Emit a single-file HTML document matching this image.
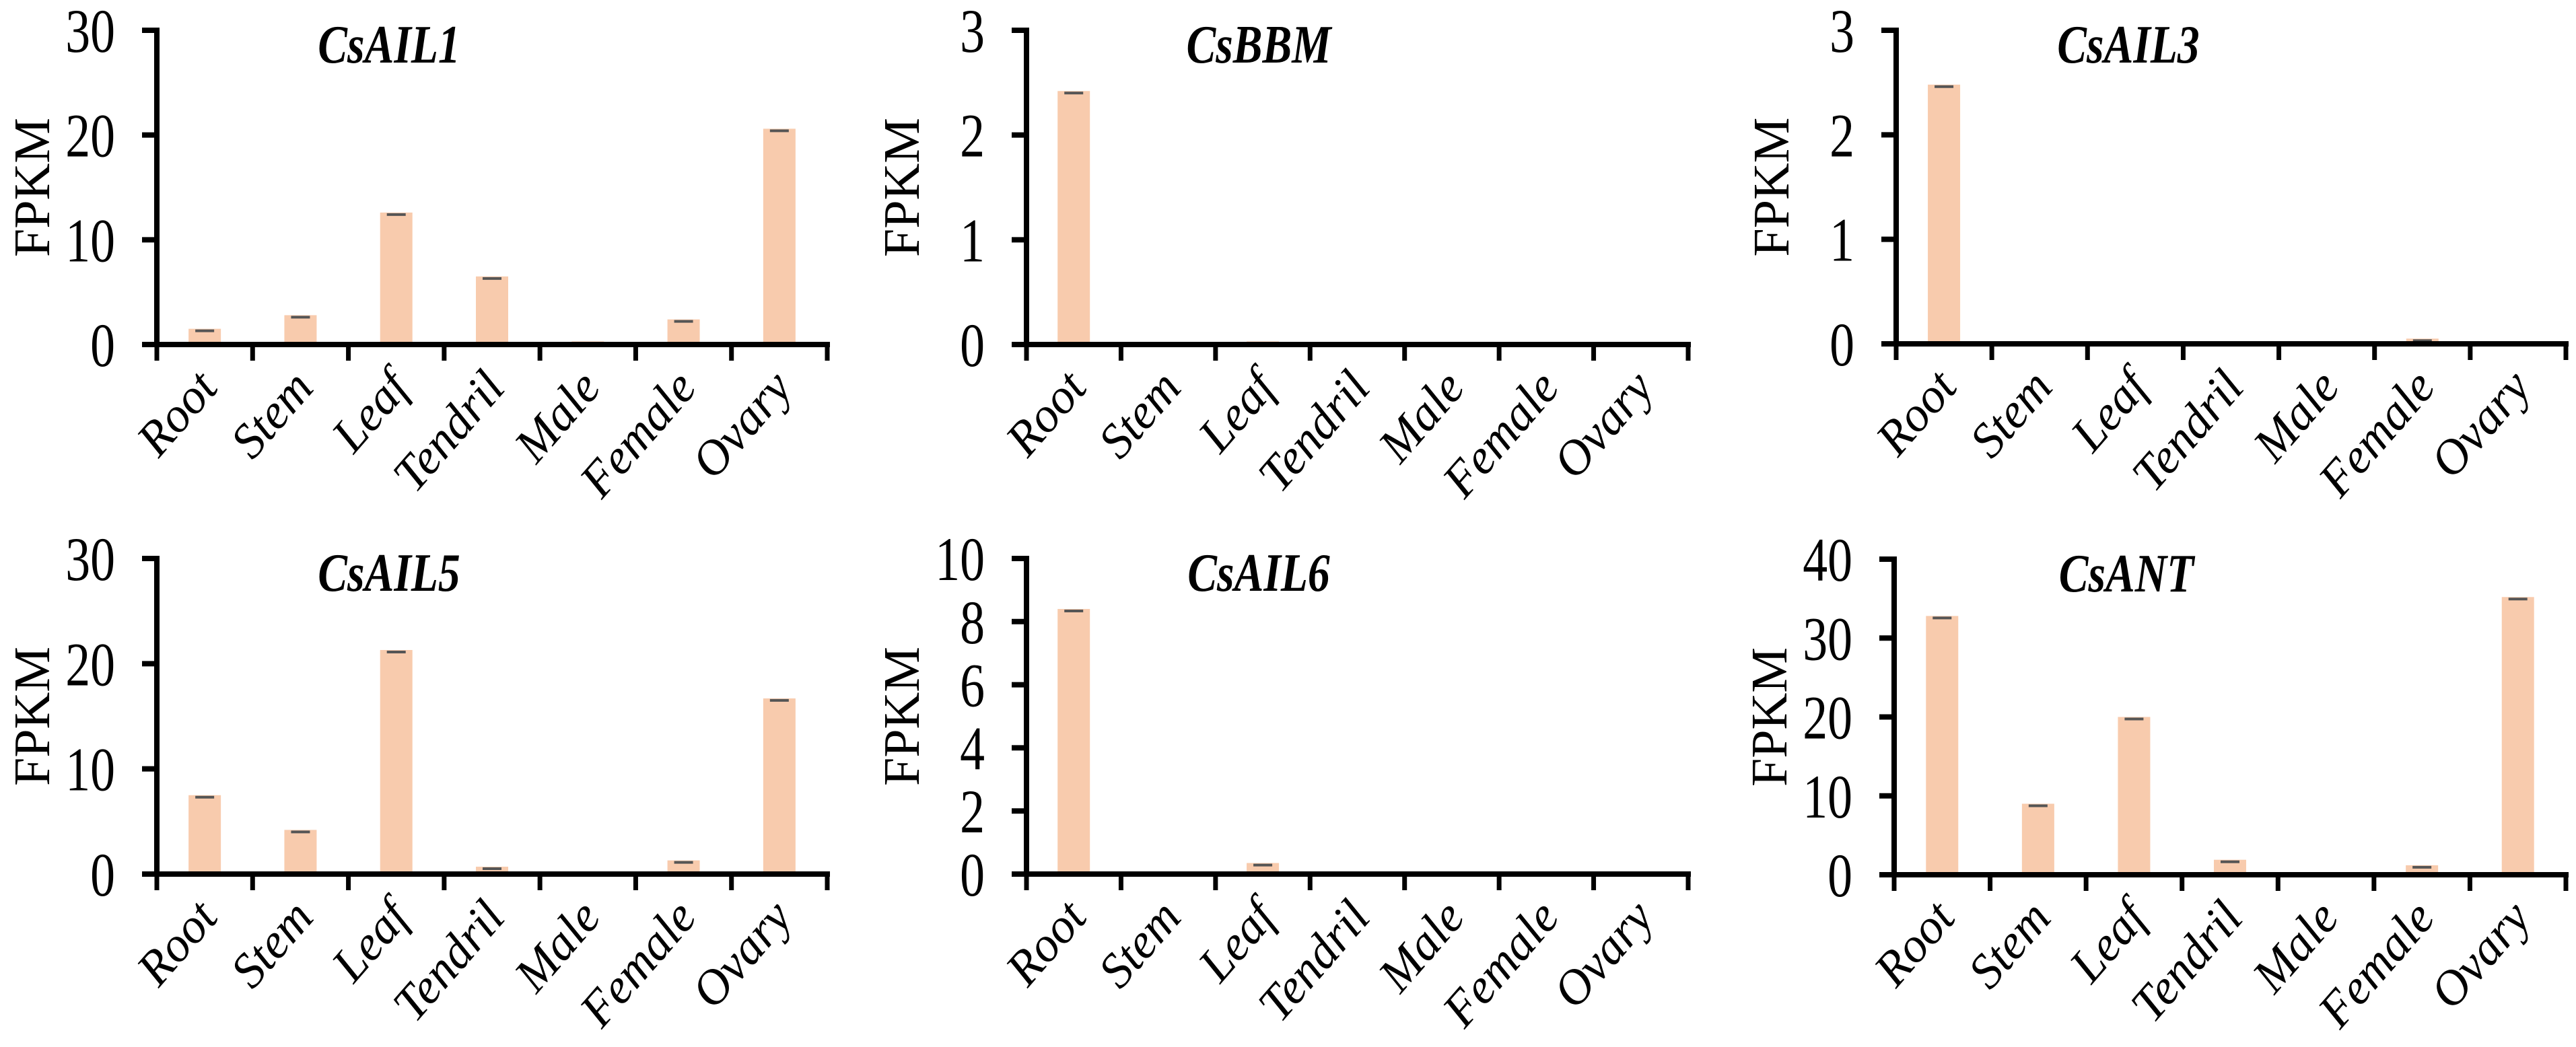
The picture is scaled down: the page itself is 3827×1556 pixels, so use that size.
<!DOCTYPE html>
<html><head><meta charset="utf-8"><style>
html,body{margin:0;padding:0;background:#fff;}
svg{display:block;font-family:"Liberation Serif",serif;}
</style></head><body>
<svg id="fig" width="3827" height="1556" viewBox="0 0 3827 1556" xmlns="http://www.w3.org/2000/svg"></svg>
<script>
const categories = ["Root","Stem","Leaf","Tendril","Male","Female","Ovary"];
const titles = ["CsAIL1","CsBBM","CsAIL3","CsAIL5","CsAIL6","CsANT"];
const valsAIL1 = [1.5,2.8,12.6,6.5,0.3,2.4,20.6];
const valsBBM = [2.42,0,0.03,0,0,0,0];
const valsAIL3 = [2.48,0,0,0,0,0.05,0];
const valsAIL5 = [7.5,4.2,21.3,0.7,0,1.3,16.7];
const valsAIL6 = [8.4,0,0.35,0,0,0,0];
const valsANT = [32.8,9.0,20.0,1.9,0,1.2,35.2];
const ticksAIL1 = [0,10,20,30];
const ticksBBM = [0,1,2,3];
const ticksAIL3 = [0,1,2,3];
const ticksAIL5 = [0,10,20,30];
const ticksAIL6 = [0,2,4,6,8,10];
const ticksANT = [0,10,20,30,40];

const NS="http://www.w3.org/2000/svg";
const svg=document.getElementById('fig');
function mk(tag,attrs,parent){const e=document.createElementNS(NS,tag);for(const k in attrs)e.setAttribute(k,attrs[k]);(parent||svg).appendChild(e);return e;}

const panels=[
 {x0:233,x1:1229,top:45,zero:512,vals:valsAIL1,ticks:ticksAIL1,name:"csail1"},
 {x0:1525,x1:2508,top:45,zero:512,vals:valsBBM,ticks:ticksBBM,name:"csbbm"},
 {x0:2817,x1:3812,top:45,zero:511,vals:valsAIL3,ticks:ticksAIL3,name:"csail3"},
 {x0:233,x1:1229,top:830,zero:1299,vals:valsAIL5,ticks:ticksAIL5,name:"csail5"},
 {x0:1525,x1:2508,top:830,zero:1299,vals:valsAIL6,ticks:ticksAIL6,name:"csail6"},
 {x0:2814,x1:3812,top:831,zero:1300,vals:valsANT,ticks:ticksANT,name:"csant"}
];

panels.forEach((p,pi)=>{
  const g=mk('g',{});
  
  
  const max=p.ticks[p.ticks.length-1];
  const yS=v=>p.zero-(v/max)*(p.zero-p.top);
  const step=(p.x1-p.x0)/categories.length;
  const xC=i=>p.x0+step*(i+0.5);
  p.vals.forEach((v,i)=>{
    if(v<=0) return;
    const b=mk('rect',{x:xC(i)-24,y:yS(v),width:48,height:p.zero-yS(v),fill:'#f8cbad'},g);
    
    
    const e=mk('line',{x1:xC(i)-14,x2:xC(i)+14,y1:yS(v)+3,y2:yS(v)+3,stroke:'#555',"stroke-width":4},g);
    
    
  });
  const ya=mk('line',{x1:p.x0,x2:p.x0,y1:p.top-4,y2:p.zero+4,stroke:'#000',"stroke-width":8},g);
  
  
  const xa=mk('line',{x1:p.x0-22,x2:p.x1+4,y1:p.zero,y2:p.zero,stroke:'#000',"stroke-width":8},g);
  
  
  p.ticks.forEach(t=>{
    mk('line',{x1:p.x0-22,x2:p.x0,y1:yS(t),y2:yS(t),stroke:'#000',"stroke-width":8},g);
    const tl=mk('text',{transform:`translate(${p.x0-62},${yS(t)+32}) scale(0.9,1.12)`,"font-size":82,"text-anchor":"end",fill:'#000'},g);
    tl.textContent=t;
    
    
  });
  for(let i=0;i<=categories.length;i++){
    const x=p.x0+step*i;
    mk('line',{x1:x,x2:x,y1:p.zero,y2:p.zero+24,stroke:'#000',"stroke-width":7},g);
  }
  categories.forEach((c,i)=>{
    const px=xC(i)+22, py=p.zero+66;
    const t=mk('text',{transform:`translate(${px},${py}) rotate(-49)`,"font-size":73,"font-style":"italic","text-anchor":"end",fill:'#000'},g);
    t.textContent=c;
    
    
  });
  const yt=mk('text',{transform:`translate(${p.x0-160},${(p.top+p.zero)/2}) rotate(-90)`,"font-size":76,"text-anchor":"middle",fill:'#000'},g);
  yt.textContent='FPKM';
  
  
  const tt=mk('text',{transform:`translate(${p.x0+345},${p.top+48}) scale(0.82,1)`,"font-size":80,"font-style":"italic","font-weight":"bold","text-anchor":"middle",fill:'#000'},g);
  tt.textContent=titles[pi];
  
  
});
</script>
</body></html>
